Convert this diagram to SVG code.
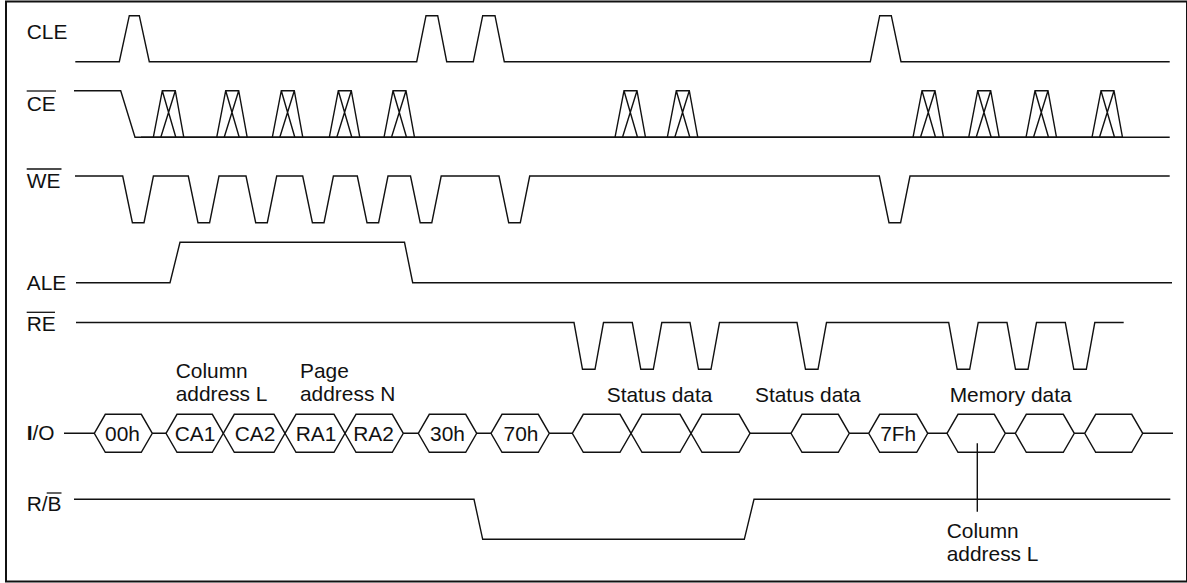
<svg xmlns="http://www.w3.org/2000/svg" xmlns:xlink="http://www.w3.org/1999/xlink" width="1187" height="583" viewBox="0 0 1187 583">
<style>
.w{fill:none;stroke:#111;stroke-width:1.4;stroke-linejoin:miter}
.hx{fill:none;stroke:#111;stroke-width:1.4}
.t{font-family:"Liberation Sans",Arial,Helvetica,sans-serif;font-size:20.5px;fill:#111}
.m{text-anchor:middle}
.ov{stroke:#111;stroke-width:1.3}
</style>
<defs>
<path id="burst" class="w" d="M0,137.3 L9,90.7 L22,90.7 L30.5,137.3 M9,90.7 L22.5,137.3 M22,90.7 L7.5,137.3"/>
</defs>
<rect x="6" y="1.5" width="1181" height="580" fill="#fff" stroke="#111" stroke-width="2"/>

<g id="labels">
<text class="t" transform="translate(26.7 38.5) scale(1.02 1)">CLE</text>
<text class="t" transform="translate(26.7 110.5) scale(1.02 1)">CE</text>
<line class="ov" x1="26.7" y1="91" x2="56" y2="91"/>
<text class="t" transform="translate(26.7 187.5) scale(1.02 1)">WE</text>
<line class="ov" x1="26.7" y1="169" x2="61.5" y2="169"/>
<text class="t" transform="translate(26.7 290) scale(1.02 1)">ALE</text>
<text class="t" transform="translate(26.7 330.5) scale(1.02 1)">RE</text>
<line class="ov" x1="26.7" y1="312.3" x2="55" y2="312.3"/>
<text class="t" transform="translate(26.7 440) scale(1.02 1)"><tspan font-weight="bold">I</tspan>/O</text>
<text class="t" transform="translate(26.7 510.5) scale(1.02 1)">R/B</text>
<line class="ov" x1="46.7" y1="493" x2="61.5" y2="493"/>
</g>

<g id="annotations">
<text class="t" transform="translate(175.7 378.3) scale(1.02 1)">Column</text>
<text class="t" transform="translate(175.7 400.7) scale(1.02 1)">address L</text>
<text class="t" transform="translate(300 378.3) scale(1.02 1)">Page</text>
<text class="t" transform="translate(300 400.7) scale(1.02 1)">address N</text>
<text class="t" transform="translate(606.7 401.7) scale(1.02 1)">Status data</text>
<text class="t" transform="translate(755 401.7) scale(1.02 1)">Status data</text>
<text class="t" transform="translate(949.7 401.7) scale(1.02 1)">Memory data</text>
<text class="t" transform="translate(946.7 537.7) scale(1.02 1)">Column</text>
<text class="t" transform="translate(946.7 561) scale(1.02 1)">address L</text>
</g>

<g id="connectors">
<g id="sig-cle">
<polyline class="w" points="75.3,61.7 119.3,61.7 129.3,15.7 139.3,15.7 149.3,61.7 416.7,61.7 426,15.7 437.7,15.7 446.7,61.7 473.3,61.7 482.7,15.7 495,15.7 504.3,61.7 870.3,61.7 879.7,15.7 891.3,15.7 901,61.7 1169.7,61.7"/>
</g>
<g id="sig-ce">
<polyline class="w" points="74,90.7 120.7,90.7 135,137.3 1169.7,137.3"/>
<line class="w" x1="141" y1="137.3" x2="1123" y2="137.3" stroke-width="1.8"/>
<use xlink:href="#burst" x="153.3"/>
<use xlink:href="#burst" x="216.7"/>
<use xlink:href="#burst" x="272.3"/>
<use xlink:href="#burst" x="329.3"/>
<use xlink:href="#burst" x="384"/>
<use xlink:href="#burst" x="615"/>
<use xlink:href="#burst" x="667.3"/>
<use xlink:href="#burst" x="913"/>
<use xlink:href="#burst" x="968.7"/>
<use xlink:href="#burst" x="1026"/>
<use xlink:href="#burst" x="1092"/>
</g>
<g id="sig-we">
<polyline class="w" points="75,176 122.7,176 132.4,222.7 144,222.7 153.4,176 188.3,176 198,222.7 209.6,222.7 219,176 246,176 255.7,222.7 267.3,222.7 276.7,176 302.7,176 312.4,222.7 324,222.7 333.4,176 357.3,176 367,222.7 378.6,222.7 388,176 410.5,176 420.2,222.7 431.8,222.7 441.2,176 499,176 508.7,222.7 520.3,222.7 529.7,176 879.3,176 889,222.7 900.6,222.7 910,176 1169.7,176"/>
</g>
<g id="sig-ale">
<polyline class="w" points="76,282.7 170,282.7 180,242.3 404.5,242.3 412.7,282.7 1172,282.7"/>
</g>
<g id="sig-re">
<polyline class="w" points="76,322.5 574,322.5 582.5,369.3 595,369.3 603.5,322.5 632.3,322.5 640.8,369.3 653.3,369.3 661.8,322.5 690,322.5 698.5,369.3 711,369.3 719.5,322.5 797,322.5 805.5,369.3 818,369.3 826.5,322.5 948.7,322.5 957.2,369.3 969.7,369.3 978.2,322.5 1007,322.5 1015.5,369.3 1028,369.3 1036.5,322.5 1065.3,322.5 1073.8,369.3 1086.3,369.3 1094.8,322.5 1123.7,322.5"/>
</g>
<g id="sig-io-lines">
<path class="w" d="M64,433.3H94.3 M152.3,433.3H166 M403.3,433.3H418.3 M476.7,433.3H491 M549.3,433.3H572.3 M750,433.3H791 M849.3,433.3H868.7 M927.7,433.3H947 M1005.3,433.3H1015.3 M1074.3,433.3H1084.7 M1142.7,433.3H1173"/>
</g>
<g id="sig-rb">
<polyline class="w" points="74,499.3 474,499.3 482.7,539.3 744.3,539.3 754,499.3 1170.3,499.3"/>
</g>
<line id="pointer" class="w" x1="977.3" y1="443.3" x2="977.3" y2="511.7"/>
</g>

<g id="io-00h"><polygon class="hx" points="94.3,433.3 105.3,414.3 141.3,414.3 152.3,433.3 141.3,452.3 105.3,452.3"/><text class="t m" transform="translate(122.5 441) scale(1.02 1)">00h</text></g>
<g id="io-ca1"><polygon class="hx" points="166,433.3 177,414.3 212.3,414.3 223.3,433.3 212.3,452.3 177,452.3"/><text class="t m" transform="translate(195 441) scale(1.02 1)">CA1</text></g>
<g id="io-ca2"><polygon class="hx" points="223.3,433.3 234.3,414.3 274,414.3 285,433.3 274,452.3 234.3,452.3"/><text class="t m" transform="translate(255 441) scale(1.02 1)">CA2</text></g>
<g id="io-ra1"><polygon class="hx" points="285,433.3 296,414.3 334,414.3 345,433.3 334,452.3 296,452.3"/><text class="t m" transform="translate(316 441) scale(1.02 1)">RA1</text></g>
<g id="io-ra2"><polygon class="hx" points="345,433.3 356,414.3 392.3,414.3 403.3,433.3 392.3,452.3 356,452.3"/><text class="t m" transform="translate(373.5 441) scale(1.02 1)">RA2</text></g>
<g id="io-30h"><polygon class="hx" points="418.3,433.3 429.3,414.3 465.7,414.3 476.7,433.3 465.7,452.3 429.3,452.3"/><text class="t m" transform="translate(447.5 441) scale(1.02 1)">30h</text></g>
<g id="io-70h"><polygon class="hx" points="491,433.3 502,414.3 538.3,414.3 549.3,433.3 538.3,452.3 502,452.3"/><text class="t m" transform="translate(521 441) scale(1.02 1)">70h</text></g>
<g id="io-s1"><polygon class="hx" points="572.3,433.3 583.3,414.3 620,414.3 631,433.3 620,452.3 583.3,452.3"/></g>
<g id="io-s2"><polygon class="hx" points="631,433.3 642,414.3 680,414.3 691,433.3 680,452.3 642,452.3"/></g>
<g id="io-s3"><polygon class="hx" points="691,433.3 702,414.3 739,414.3 750,433.3 739,452.3 702,452.3"/></g>
<g id="io-s4"><polygon class="hx" points="791,433.3 802,414.3 838.3,414.3 849.3,433.3 838.3,452.3 802,452.3"/></g>
<g id="io-7fh"><polygon class="hx" points="868.7,433.3 879.7,414.3 916.7,414.3 927.7,433.3 916.7,452.3 879.7,452.3"/><text class="t m" transform="translate(898.2 441) scale(1.02 1)">7Fh</text></g>
<g id="io-m1"><polygon class="hx" points="947,433.3 958,414.3 994.3,414.3 1005.3,433.3 994.3,452.3 958,452.3"/></g>
<g id="io-m2"><polygon class="hx" points="1015.3,433.3 1026.3,414.3 1063.3,414.3 1074.3,433.3 1063.3,452.3 1026.3,452.3"/></g>
<g id="io-m3"><polygon class="hx" points="1084.7,433.3 1095.7,414.3 1131.7,414.3 1142.7,433.3 1131.7,452.3 1095.7,452.3"/></g>
</svg>
